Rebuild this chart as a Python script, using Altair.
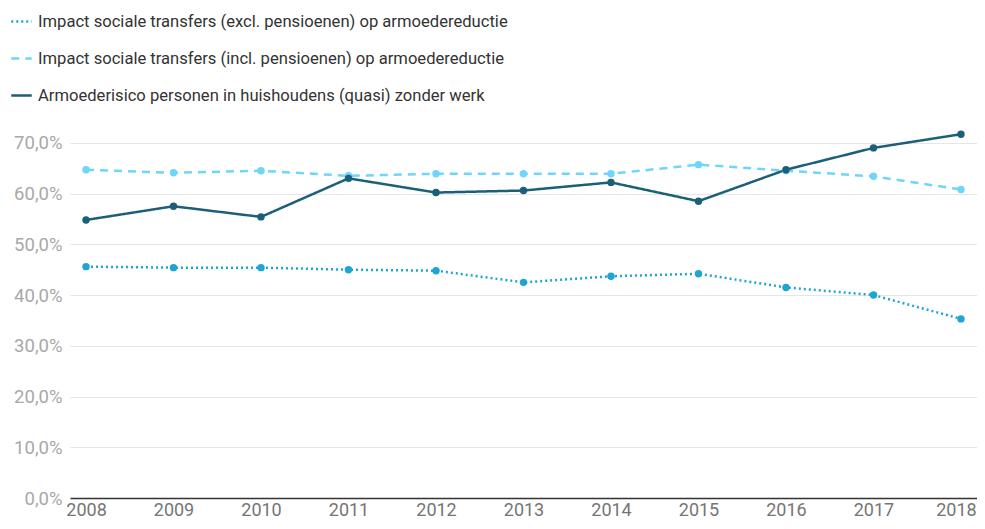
import altair as alt
import pandas as pd

years = ["2008", "2009", "2010", "2011", "2012", "2013", "2014", "2015", "2016", "2017", "2018"]
series_names = [
    "Impact sociale transfers (excl. pensioenen) op armoedereductie",
    "Impact sociale transfers (incl. pensioenen) op armoedereductie",
    "Armoederisico personen in huishoudens (quasi) zonder werk",
]
excl_pensioenen = [45.6, 45.4, 45.4, 45.0, 44.8, 42.5, 43.7, 44.2, 41.5, 40.0, 35.3]
incl_pensioenen = [64.7, 64.1, 64.5, 63.5, 63.9, 63.9, 63.9, 65.7, 64.5, 63.4, 60.8]
armoederisico = [54.8, 57.5, 55.4, 63.0, 60.2, 60.6, 62.2, 58.5, 64.7, 69.0, 71.7]
y_ticks = [0.0, 0.1, 0.2, 0.3, 0.4, 0.5, 0.6, 0.7]

colors = ["#1fa5d3", "#6fd5fa", "#1b5f78"]
dashes = [[2, 3], [8, 6], [1, 0]]

rows = []
for name, vals in zip(series_names, [excl_pensioenen, incl_pensioenen, armoederisico]):
    for yr, v in zip(years, vals):
        rows.append({"jaar": yr, "reeks": name, "waarde": v / 100})
df = pd.DataFrame(rows)

x_enc = alt.X(
    "jaar:O",
    sort=years,
    scale=alt.Scale(type="point", padding=0.183),
    axis=alt.Axis(
        title=None, labelAngle=0, ticks=False, grid=False,
        domainColor="#333333", domainWidth=1.5,
        labelColor="#757575", labelFontSize=18, labelFont="Roboto",
        labelPadding=3,
        labelOffset={"condition": {"test": "datum.label == '2018'", "value": -5}, "value": 0},
    ),
)
y_enc = alt.Y(
    "waarde:Q",
    scale=alt.Scale(domain=[0, 0.745], nice=False),
    axis=alt.Axis(
        title=None, values=y_ticks, ticks=False, domain=False,
        grid=True, gridColor="#e6e6e6", gridWidth=1,
        labelColor="#a8a8a8", labelFontSize=18.5, labelFont="Roboto",
        labelPadding=8,
        labelExpr="replace(format(datum.value, '.1%'), '.', ',')",
    ),
)
legend_cfg = dict(
    title=None, orient="none", legendX=-60, legendY=-110,
    direction="vertical", symbolType="stroke", symbolStrokeWidth=2.5,
    symbolSize=420, labelFontSize=16.6, labelFont="Roboto",
    labelColor="#333333", rowPadding=16, labelOffset=5,
    labelLimit=700,
)
color_enc = alt.Color(
    "reeks:N",
    sort=series_names,
    scale=alt.Scale(domain=series_names, range=colors),
    legend=alt.Legend(**legend_cfg),
)
dash_enc = alt.StrokeDash(
    "reeks:N",
    sort=series_names,
    scale=alt.Scale(domain=series_names, range=dashes),
    legend=alt.Legend(**legend_cfg),
)

lines = alt.Chart(df).mark_line(strokeWidth=2.5).encode(
    x=x_enc, y=y_enc, color=color_enc, strokeDash=dash_enc
)
points = alt.Chart(df).mark_circle(size=55, opacity=1).encode(
    x=alt.X("jaar:O", sort=years), y="waarde:Q",
    color=alt.Color("reeks:N", sort=series_names, legend=None,
                    scale=alt.Scale(domain=series_names, range=colors)),
)

chart = (
    alt.layer(lines, points)
    .properties(
        width=907, height=378,
        padding={"left": 62, "top": 112, "right": 0, "bottom": 23},
        autosize=alt.AutoSizeParams(type="none"),
        background="white",
    )
    .configure_view(stroke=None)
)

chart.save("out.html", embed_options={"renderer": "svg", "actions": False})
